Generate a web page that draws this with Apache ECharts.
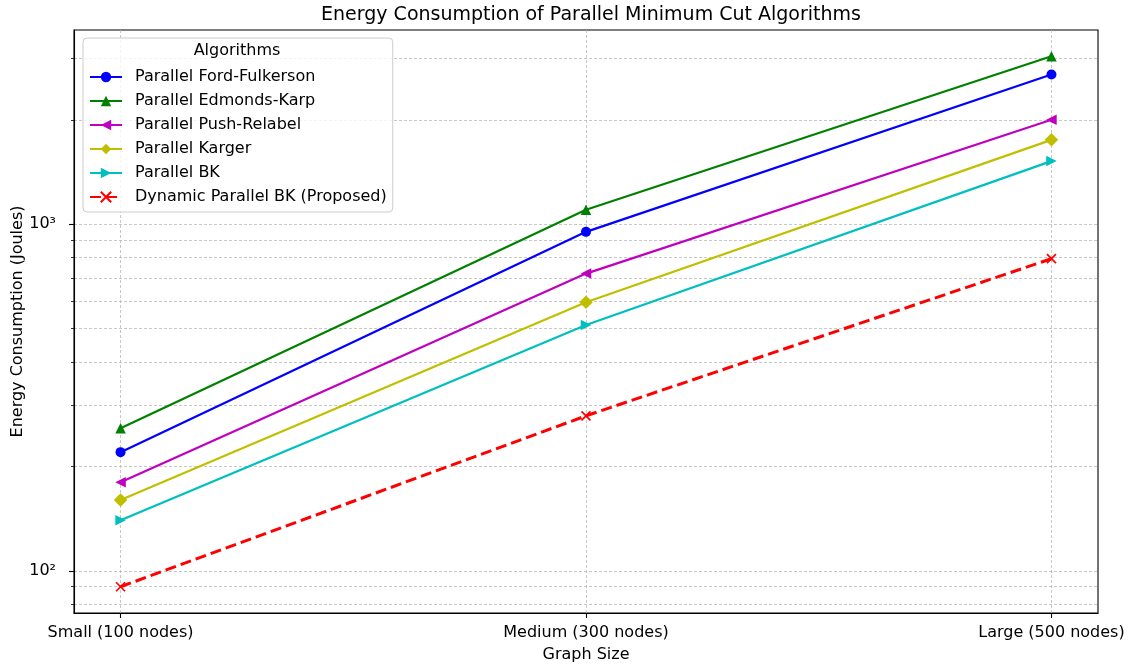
<!DOCTYPE html>
<html><head><meta charset="utf-8">
<script src="https://cdn.jsdelivr.net/npm/echarts@6/dist/echarts.min.js"></script>
<style>html,body{margin:0;padding:0;background:#fff}#c{width:1133px;height:667px}</style>
</head><body><div id="c"></div>
<script>
const categories = ['Small (100 nodes)', 'Medium (300 nodes)', 'Large (500 nodes)'];
const seriesNames = ['Parallel Ford-Fulkerson', 'Parallel Edmonds-Karp', 'Parallel Push-Relabel', 'Parallel Karger', 'Parallel BK', 'Dynamic Parallel BK (Proposed)'];
const fordFulkerson = [220, 950, 2700];
const edmondsKarp = [258, 1100, 3050];
const pushRelabel = [180, 720, 2000];
const karger = [160, 595, 1750];
const parallelBK = [140, 512, 1520];
const dynamicBK = [90, 280, 795];
const yMajorTicks = [100, 1000];
const yMinorTicks = [80, 90, 200, 300, 400, 500, 600, 700, 800, 900, 2000, 3000];
const xTicks = [0, 1, 2];

const FONT = 'DejaVu Sans';
const pairs = arr => arr.map((v, i) => [i, v]);
const sup = {'0':'⁰','1':'¹','2':'²','3':'³','4':'⁴','5':'⁵'};

const styles = [
  {color: '#0000ff', symbol: 'circle', size: 10, rotate: 0},
  {color: '#008000', symbol: 'triangle', size: 10.5, rotate: 0},
  {color: '#bf00bf', symbol: 'triangle', size: 10.5, rotate: 90},
  {color: '#bfbf00', symbol: 'diamond', size: 13.5, rotate: 0},
  {color: '#00bfbf', symbol: 'triangle', size: 10.5, rotate: -90},
  {color: '#ff0000', symbol: 'path://M0,0L10,10M0,10L10,0', size: 9, rotate: 0, dashed: true}
];
const allData = [fordFulkerson, edmondsKarp, pushRelabel, karger, parallelBK, dynamicBK];

const series = allData.map((d, i) => {
  const s = styles[i];
  return {
    name: seriesNames[i],
    type: 'line',
    data: pairs(d),
    symbol: s.symbol,
    symbolSize: s.size,
    symbolRotate: s.rotate,
    showAllSymbol: true,
    animation: false,
    lineStyle: s.dashed ? {color: s.color, width: 3, type: [11, 5]} : {color: s.color, width: 2.2},
    itemStyle: s.dashed ? {color: s.color, borderColor: s.color, borderWidth: 1.7} : {color: s.color, borderWidth: 0},
    emphasis: {disabled: true},
    z: 3 + i
  };
});

const chart = echarts.init(document.getElementById('c'));
chart.setOption({
  animation: false,
  backgroundColor: '#fff',
  title: {
    text: 'Energy Consumption of Parallel Minimum Cut Algorithms',
    left: 586, top: 1, textAlign: 'center',
    textStyle: {fontFamily: FONT, fontSize: 19, fontWeight: 'normal', color: '#000'}
  },
  grid: {left: 74, right: 35, top: 30, bottom: 54, show: true, borderColor: '#000', borderWidth: 1.1,
    containLabel: false, outerBoundsMode: 'none'},
  legend: {
    orient: 'vertical', left: 83, top: 38,
    padding: [31, 6, 7, 6],
    itemWidth: 32, itemHeight: 13, itemGap: 8,
    backgroundColor: 'rgba(255,255,255,0.8)', borderColor: '#cccccc', borderWidth: 1, borderRadius: 4,
    textStyle: {fontFamily: FONT, fontSize: 16, color: '#000', padding: [0, 0, 0, 8]},
    data: seriesNames
  },
  graphic: [{
    type: 'text', x: 237, y: 43, z: 100,
    style: {text: 'Algorithms', fontFamily: FONT, fontSize: 16, fill: '#000', align: 'center', verticalAlign: 'top'}
  }],
  xAxis: {
    type: 'value', min: -0.1, max: 2.1,
    name: 'Graph Size', nameLocation: 'middle', nameGap: 34,
    nameTextStyle: {fontFamily: FONT, fontSize: 16, color: '#000'},
    axisLine: {onZero: false, lineStyle: {color: '#000', width: 1.1}},
    axisTick: {customValues: xTicks, length: 5, lineStyle: {color: '#000', width: 1.1}},
    axisLabel: {customValues: xTicks, margin: 12, fontFamily: FONT, fontSize: 16, color: '#000', formatter: v => categories[Math.round(v)] || ''},
    splitLine: {show: true, lineStyle: {color: '#b0b0b0', width: 0.7, type: [3, 2]}}
  },
  yAxis: [{
    type: 'log', logBase: 10, min: 75.6, max: 3630,
    name: 'Energy Consumption (Joules)', nameLocation: 'middle', nameGap: 48, nameMoveOverlap: false,
    nameTextStyle: {fontFamily: FONT, fontSize: 16, color: '#000'},
    axisLine: {show: true, onZero: false, lineStyle: {color: '#000', width: 1.1}},
    axisTick: {customValues: yMajorTicks, length: 5, lineStyle: {color: '#000', width: 1.1}},
    axisLabel: {customValues: yMajorTicks, margin: 18, fontFamily: FONT, fontSize: 16, color: '#000',
      formatter: v => { const e = Math.round(Math.log10(v)); return '10' + String(e).split('').map(c => sup[c]).join(''); }},
    splitLine: {show: true, lineStyle: {color: '#b0b0b0', width: 0.7, type: [3, 2]}}
  }, {
    type: 'log', logBase: 10, min: 75.6, max: 3630, position: 'left',
    axisLine: {show: false, onZero: false},
    axisTick: {show: true, customValues: yMinorTicks, length: 3, lineStyle: {color: '#000', width: 0.8}},
    axisLabel: {show: false},
    splitLine: {show: true, lineStyle: {color: '#b0b0b0', width: 0.7, type: [3, 2]}}
  }],
  series: series
});
</script>
</body></html>
